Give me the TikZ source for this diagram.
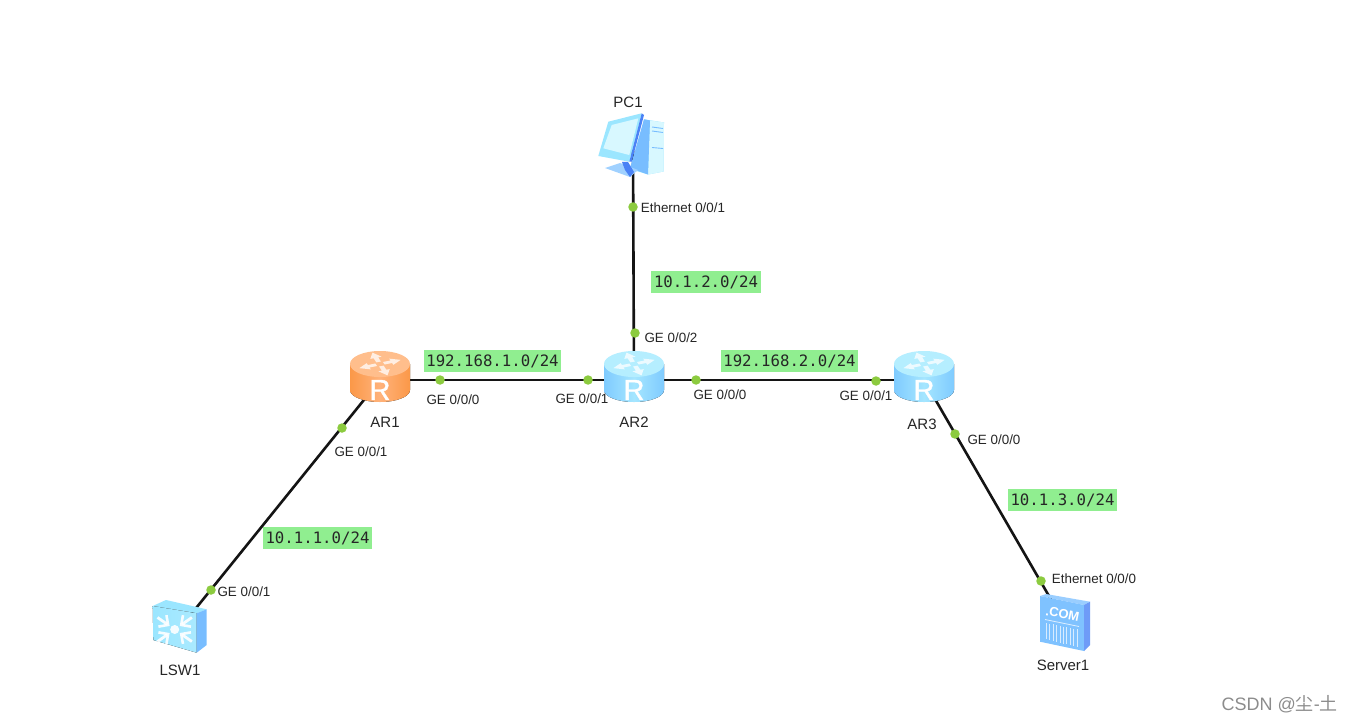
\documentclass[tikz,border=0pt]{standalone}
\usepackage{fontspec}
\setmainfont{Liberation Sans}
\newfontfamily\netmono{DejaVu Sans Mono}
\newfontfamily\cjkwm{Noto Sans CJK SC}
\tikzset{
  x=1pt,y=-1pt,
  anchorbox/.style={inner sep=0pt,minimum size=2pt},
  link/.style={draw=black!92,line width=2.6pt},
  portdot/.style={circle,fill=dotgreen,inner sep=0pt,minimum size=9.5pt},
  portlabel/.style={font=\fontsize{13.4}{15}\selectfont,text=black!85,inner sep=0pt},
  devlabel/.style={font=\fontsize{15}{17}\selectfont,text=black!85,inner sep=0pt},
  netlabel/.style={fill=netgreen,font=\netmono\fontsize{15.7}{18}\selectfont,text=black!85,inner sep=0pt,minimum height=22pt},
  wmark/.style={font=\fontsize{18}{21}\selectfont,text=black!45,inner sep=0pt},
  pics/routericon/.style n args={3}{code={
    \fill[left color=#1,right color=#1,middle color=#2] (-30,-16) -- (-30,10) arc[start angle=180,end angle=360,x radius=30,y radius=-12] -- (30,-16) -- cycle;
    \fill[#3] (0,-16) ellipse[x radius=30,y radius=13];
    \foreach \a in {20,110,200,290}{
      \begin{scope}[shift={(0,-16)},yscale=0.55,rotate=\a]
        \fill[white,opacity=.75] (4,-2.4) -- (12,-2.4) -- (12,-6) -- (22,0) -- (12,6) -- (12,2.4) -- (4,2.4) -- cycle;
      \end{scope}}
    \node[inner sep=0pt,text=white,font=\fontsize{29}{30}\selectfont] at (0,10) {\addfontfeatures{FakeBold=1.2}R};
  }},
}
\definecolor{dotgreen}{HTML}{8CCB3F}
\definecolor{netgreen}{HTML}{90EE90}
\definecolor{rbl}{HTML}{7FCBFF}
\definecolor{rbm}{HTML}{A5E6FF}
\definecolor{rbt}{HTML}{B5EEFF}
\definecolor{rol}{HTML}{FB9848}
\definecolor{rom}{HTML}{FFB27A}
\definecolor{rot}{HTML}{FFBE8C}
\definecolor{pcl}{HTML}{9BE6FF}
\definecolor{pcs}{HTML}{D8F8FF}
\definecolor{pcb}{HTML}{78BDFF}
\definecolor{pcd}{HTML}{4A82F5}
\definecolor{srv}{HTML}{7FC2FF}
\begin{document}
\begin{tikzpicture}
\useasboundingbox[fill=white] (0,0) rectangle (1354,722);
% device anchors
\node[anchorbox] (AR1) at (380,380) {};
\node[anchorbox] (AR2) at (634,380) {};
\node[anchorbox] (AR3) at (924,380) {};
\node[anchorbox] (PC1) at (633,150) {};
\node[anchorbox] (LSW1) at (180,628) {};
\node[anchorbox] (Server1) at (1064,622) {};
% links
\draw[link] (AR1) -- (AR2);
\draw[link] (AR2) -- (AR3);
\draw[link] (PC1) -- (AR2);
\draw[link] (AR1) -- (LSW1);
\draw[link] (AR3) -- (Server1);
% router icons
\pic at (AR1) {routericon={rol}{rom}{rot}};
\pic at (AR2) {routericon={rbl}{rbm}{rbt}};
\pic at (AR3) {routericon={rbl}{rbm}{rbt}};
% PC icon
\fill[pcl] (644,119.3) -- (664,122.5) -- (663.5,171.5) -- (648,174.5) -- (633,170) -- cycle;
\fill[pcs] (650,120.5) -- (664,122.5) -- (663.5,171.5) -- (648,174.5) -- cycle;
\fill[pcb] (644,119.3) -- (650,120.5) -- (648,174.5) -- (630,168) -- cycle;
\fill[pcb!70!white] (605,168) -- (620,163) -- (638,170) -- (630,177) -- cycle;
\fill[pcd] (622,162) -- (628,162) -- (634,172) -- (630,177) -- (625,170) -- cycle;
\fill[pcl] (608.3,121.7) -- (641.7,113.3) -- (629.3,161.7) -- (598.3,156) -- cycle;
\fill[pcd] (641.7,113.3) -- (644,115) -- (631.7,161.7) -- (629.3,161.7) -- cycle;
\fill[pcs] (611.7,125) -- (638.3,118.3) -- (629.3,155) -- (603.3,148.3) -- cycle;
\draw[pcb,line width=.9pt] (652,127) -- (663,128.5) (652,131) -- (663,132.5) (652,147.5) -- (663,148.5);
% switch icon
\fill[pcl] (152.7,606) -- (166,600) -- (206.7,609.3) -- (196.7,613.3) -- cycle;
\fill[left color=pcl,right color=pcl!85!white] (152.7,606) -- (196.7,613.3) -- (196.7,652.7) -- (153.3,640) -- cycle;
\fill[pcb] (196.7,613.3) -- (206.7,609.3) -- (206.7,645) -- (196.7,652.7) -- cycle;
\fill[white,opacity=.9] (174.7,629.5) circle (4.5);
\foreach \a in {35,145,215,325}{
  \begin{scope}[shift={(174.7,629.5)},rotate=\a]
    \draw[white,opacity=.9,line width=2.8pt] (21,0) -- (9,0);
    \draw[white,opacity=.9,line width=2.6pt] (15,-7) -- (8,0) -- (15,7);
  \end{scope}}
% server icon
\fill[pcb!75!white] (1040,596) -- (1046,594) -- (1090,601.7) -- (1084,605) -- cycle;
\fill[srv] (1040,596) -- (1084,605) -- (1084,651) -- (1040,641.7) -- cycle;
\fill[pcd!80!white] (1084,605) -- (1090,601.7) -- (1090,645) -- (1084,651) -- cycle;
\node[inner sep=0pt,text=white,rotate=-11,font=\bfseries\fontsize{13}{14}\selectfont] (comtext) at (1062.5,614) {.COM};
\draw[white,opacity=.75,line width=.8pt] (1045,619.5) -- (1079,626.5);
\foreach \i in {0,...,9}{
  \draw[white,opacity=.7,line width=1pt] (1046.5+3.4*\i,623+.7*\i) -- (1046.5+3.4*\i,639+.9*\i);}
% port dots
\node[portdot] (p1) at (633,207) {};
\node[portdot] (p2) at (635,333) {};
\node[portdot] (p3) at (440,380) {};
\node[portdot] (p4) at (588,380) {};
\node[portdot] (p5) at (696,380) {};
\node[portdot] (p6) at (876,381) {};
\node[portdot] (p7) at (342,428) {};
\node[portdot] (p8) at (955,434) {};
\node[portdot] (p9) at (211,590) {};
\node[portdot] (p10) at (1041,581) {};
% device and port labels
\node[devlabel] (tPC1) at (628,102) {PC1};
\node[devlabel] (tAR1) at (385,422) {AR1};
\node[devlabel] (tAR2) at (634,422) {AR2};
\node[devlabel] (tAR3) at (922,424) {AR3};
\node[devlabel] (tLSW1) at (180,670) {LSW1};
\node[devlabel] (tServer1) at (1063,665) {Server1};
\node[portlabel] (e1) at (683,208) {Ethernet 0/0/1};
\node[portlabel] (g1) at (671,338) {GE 0/0/2};
\node[portlabel] (g2) at (453,400) {GE 0/0/0};
\node[portlabel] (g3) at (582,399) {GE 0/0/1};
\node[portlabel] (g4) at (720,395) {GE 0/0/0};
\node[portlabel] (g5) at (866,396) {GE 0/0/1};
\node[portlabel] (g6) at (994,440) {GE 0/0/0};
\node[portlabel] (g7) at (361,452) {GE 0/0/1};
\node[portlabel] (g8) at (244,592) {GE 0/0/1};
\node[portlabel] (e2) at (1094,579) {Ethernet 0/0/0};
% network labels
\node[netlabel,minimum width=137pt] (n1) at (492.5,361) {192.168.1.0/24};
\node[netlabel,minimum width=137pt] (n2) at (789.5,361) {192.168.2.0/24};
\node[netlabel,minimum width=110pt] (n3) at (706,282) {10.1.2.0/24};
\node[netlabel,minimum width=109pt] (n4) at (317.5,538) {10.1.1.0/24};
\node[netlabel,minimum width=109pt] (n5) at (1062.5,500) {10.1.3.0/24};
% watermark
\node[wmark,anchor=east] (wm) at (1338,704) {CSDN @{\cjkwm 尘}-{\cjkwm 土}};
\end{tikzpicture}
\end{document}
